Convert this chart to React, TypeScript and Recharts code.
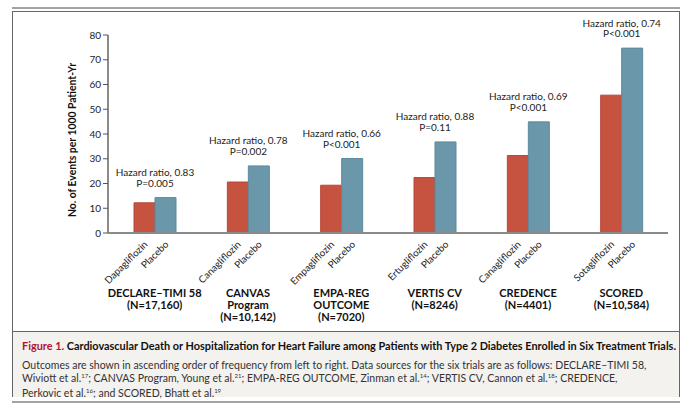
import React from "react"
import { BarChart, Bar, XAxis, YAxis, LabelList } from "recharts"

// trials, left to right in ascending order of event rate
const trialLines = [
  ["DECLARE–TIMI 58", "(N=17,160)"],
  ["CANVAS", "Program", "(N=10,142)"],
  ["EMPA-REG", "OUTCOME", "(N=7020)"],
  ["VERTIS CV", "(N=8246)"],
  ["CREDENCE", "(N=4401)"],
  ["SCORED", "(N=10,584)"],
]
const drugs = ["Dapagliflozin", "Canagliflozin", "Empagliflozin", "Ertugliflozin", "Canagliflozin", "Sotagliflozin"]
const drugRates = [12.2, 20.6, 19.3, 22.4, 31.3, 55.7]
const placeboRates = [14.3, 27.1, 30.1, 36.8, 44.9, 74.7]
const hazardRatios = ["0.83", "0.78", "0.66", "0.88", "0.69", "0.74"]
const pValues = ["P=0.005", "P=0.002", "P<0.001", "P=0.11", "P<0.001", "P<0.001"]
const yTicks = [0, 10, 20, 30, 40, 50, 60, 70, 80]

const data = trialLines.map((lines, i) => ({
  trial: lines.join(" "),
  drug: drugRates[i],
  placebo: placeboRates[i],
}))

const FONT = "Lato, 'Open Sans', sans-serif"
const RED = "#c6533f"
const BLUE = "#6a97aa"

const TrialTick = (props: any) => {
  const { x, y, index } = props
  const bw = 21
  const dx = x - bw / 2 + 4
  const px = x + bw / 2 + 4
  const ty = y + 4
  return (
    <g fontFamily={FONT}>
      <text x={dx} y={ty} textAnchor="end" fontSize={9.8} fill="#222" transform={`rotate(-45, ${dx}, ${ty})`}>
        {drugs[index]}
      </text>
      <text x={px} y={ty} textAnchor="end" fontSize={9.8} fill="#222" transform={`rotate(-45, ${px}, ${ty})`}>
        Placebo
      </text>
      {trialLines[index].map((line, k) => (
        <text key={k} x={x} y={y + 56 + k * 12} textAnchor="middle" fontSize={11} fontWeight={700} fill="#111">
          {line}
        </text>
      ))}
    </g>
  )
}

const HazardLabel = (props: any) => {
  const { x, y, index } = props
  return (
    <g fontFamily={FONT} fontSize={10} fill="#222">
      <text x={x} y={y - 21.5} textAnchor="middle">Hazard ratio, {hazardRatios[index]}</text>
      <text x={x} y={y - 11} textAnchor="middle">{pValues[index]}</text>
    </g>
  )
}

const YTitle = () => (
  <text
    x={72}
    y={140}
    transform="rotate(-90, 72, 140)"
    textAnchor="middle"
    dominantBaseline="central"
    fontFamily={FONT}
    fontSize={10.6}
    fontWeight={700}
    fill="#111"
    textLength={154}
    lengthAdjust="spacingAndGlyphs"
  >
    No. of Events per 1000 Patient-Yr
  </text>
)

const sup = { fontSize: 6, position: "relative" as const, top: -4, verticalAlign: "baseline" }

const App = () => {
  return (
    <div style={{ position: "absolute", left: 0, top: 0, width: 690, height: 419, background: "#fff", fontFamily: FONT }}>
      <div style={{ position: "absolute", left: 12, top: 7, width: 668, height: 2, background: "#a3a3a3" }} />
      <div style={{ position: "absolute", left: 12, top: 11, width: 666, height: 384, border: "1px solid #666" }} />
      <div style={{ position: "absolute", left: 13, top: 331, width: 666, height: 65, background: "#f4f2ee", borderTop: "1px solid #666" }} />
      <div style={{ position: "absolute", left: 12, top: 401, width: 668, height: 2, background: "#a3a3a3" }} />

      <div style={{ position: "absolute", left: 0, top: 0 }}>
        <BarChart
          width={690}
          height={330}
          data={data}
          margin={{ top: 35, right: 22, bottom: 7, left: 68 }}
          barGap={0}
          barSize={21}
        >
          <XAxis
            dataKey="trial"
            height={90}
            tickLine={false}
            axisLine={{ stroke: "#8a8a8a", strokeWidth: 2 }}
            tick={<TrialTick />}
            interval={0}
          />
          <YAxis
            width={40}
            domain={[0, 80]}
            ticks={yTicks}
            tickSize={5}
            tickMargin={2}
            axisLine={{ stroke: "#8a8a8a", strokeWidth: 2 }}
            tickLine={{ stroke: "#555" }}
            tick={{ fontSize: 10, fill: "#222", fontFamily: FONT }}
            label={<YTitle />}
          />
          <Bar dataKey="drug" fill={RED} stroke="#b8473a" strokeWidth={1} isAnimationActive={false} />
          <Bar dataKey="placebo" fill={BLUE} stroke="#5d8a9e" strokeWidth={1} isAnimationActive={false}>
            <LabelList dataKey="placebo" content={<HazardLabel />} />
          </Bar>
        </BarChart>
      </div>

      <div style={{ position: "absolute", left: 22, top: 339, width: 660, fontSize: 10.5, lineHeight: "13.7px", color: "#333", whiteSpace: "nowrap" }}>
        <div style={{ fontWeight: 700, fontSize: 10.9, color: "#111" }}>
          <span style={{ color: "#b3122e" }}>Figure 1.</span> Cardiovascular Death or Hospitalization for Heart Failure among Patients with Type 2 Diabetes Enrolled in Six Treatment Trials.
        </div>
        <div style={{ marginTop: 6 }}>
          Outcomes are shown in ascending order of frequency from left to right. Data sources for the six trials are as follows: DECLARE–TIMI 58,
        </div>
        <div>
          Wiviott et al.<span style={sup}>17</span>; CANVAS Program, Young et al.<span style={sup}>21</span>; EMPA-REG OUTCOME, Zinman et al.<span style={sup}>14</span>; VERTIS CV, Cannon et al.<span style={sup}>18</span>; CREDENCE,
        </div>
        <div>
          Perkovic et al.<span style={sup}>16</span>; and SCORED, Bhatt et al.<span style={sup}>19</span>
        </div>
      </div>
    </div>
  )
}

export default App
